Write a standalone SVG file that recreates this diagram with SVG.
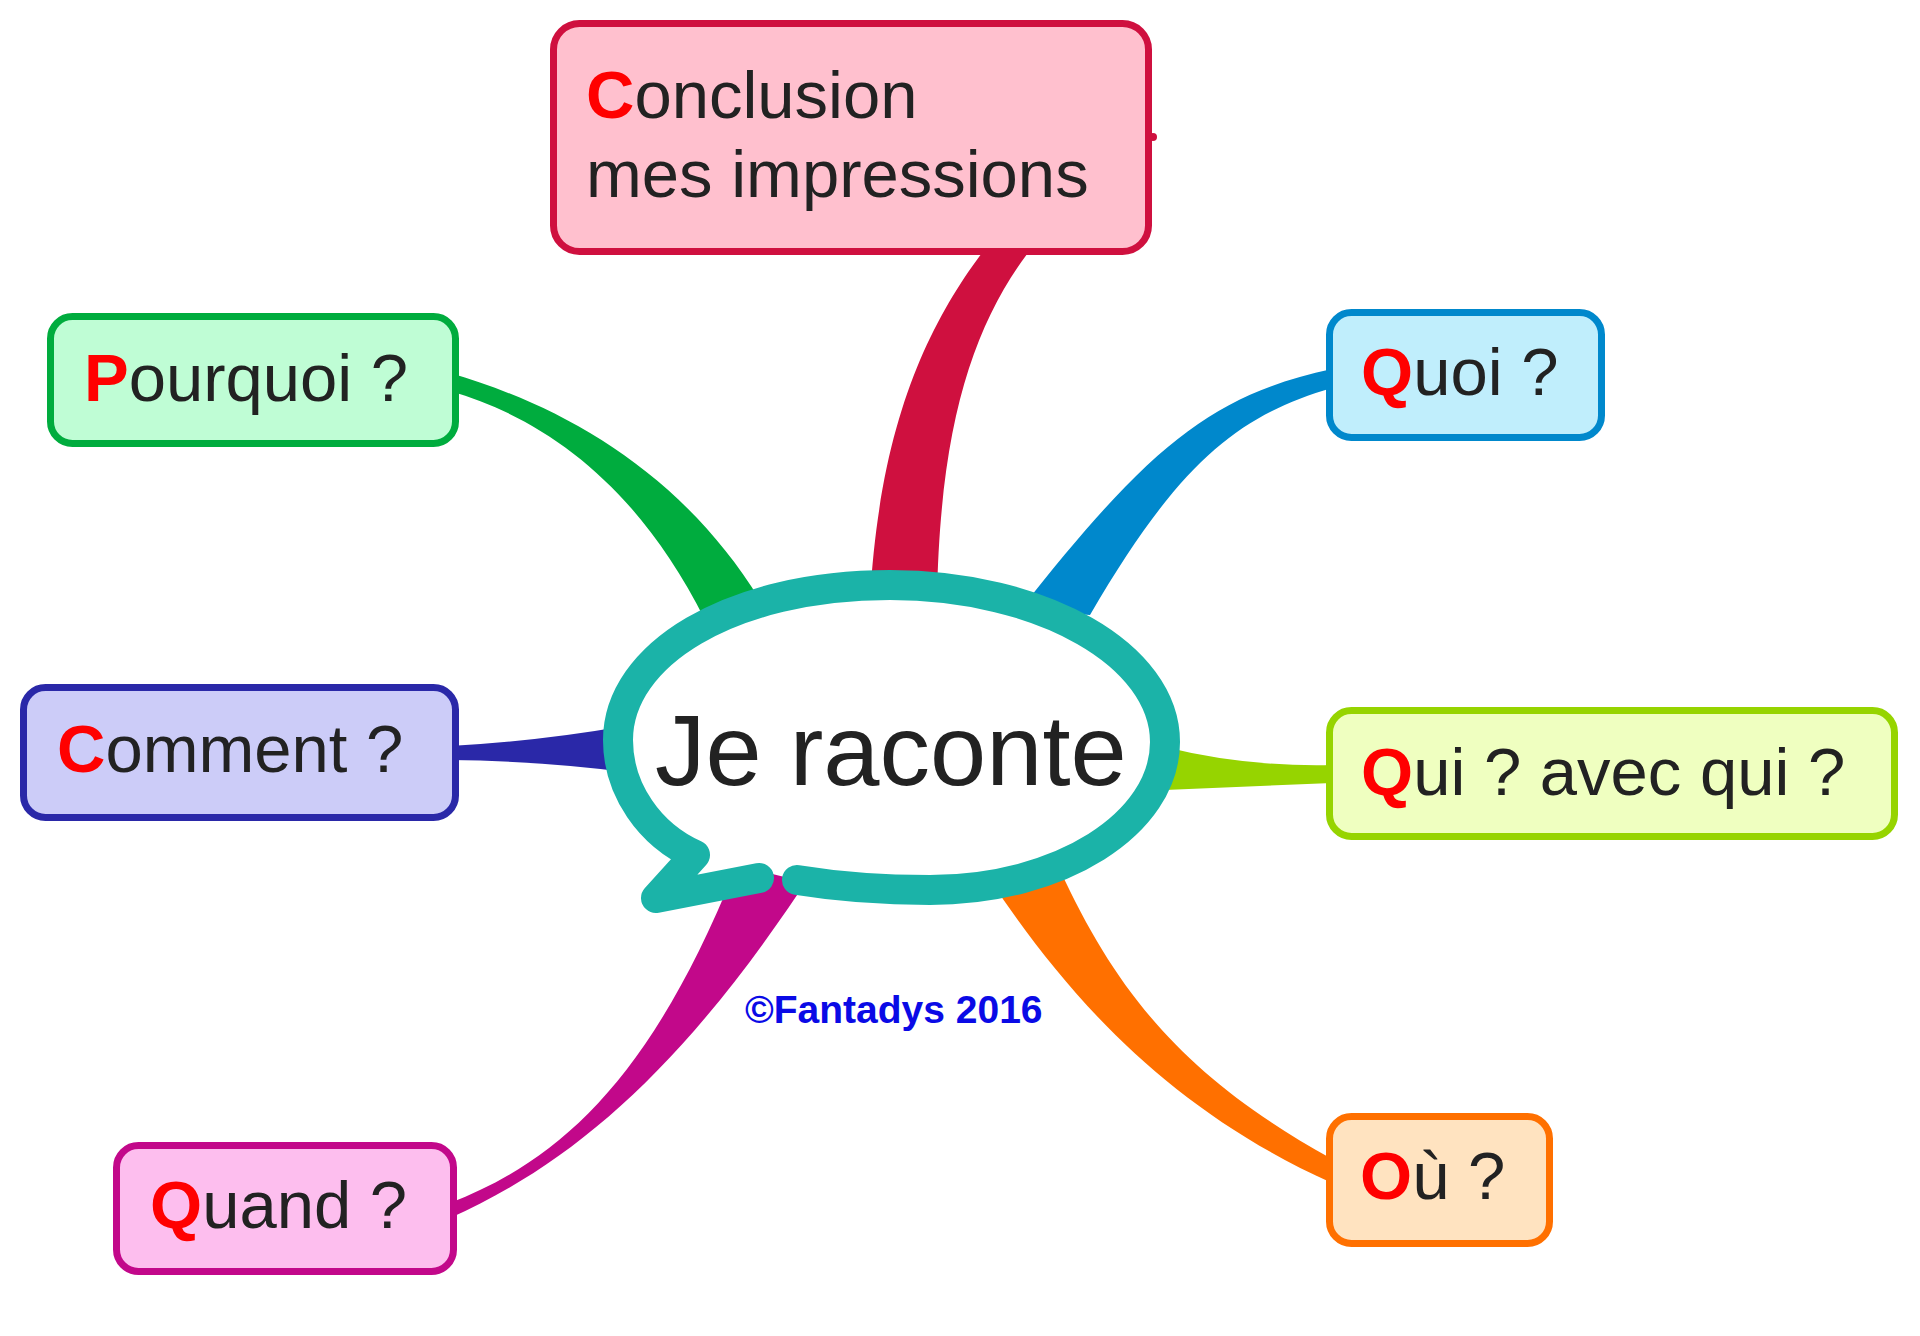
<svg xmlns="http://www.w3.org/2000/svg" width="1920" height="1336" viewBox="0 0 1920 1336">
<style>
.box{stroke-width:7}
.lbl{font-family:"Liberation Sans",Arial,sans-serif;font-size:67px;fill:#222222}
.ini{fill:#FF0000;font-weight:bold}
.ring{fill:none;stroke:#1BB3A8;stroke-width:30;stroke-linecap:round;stroke-linejoin:round}
</style>
<rect width="1920" height="1336" fill="#FFFFFF"/>
<g id="connectors">
  <path id="c-conclusion" fill="#CF103F" d="M 988,245 C 930,320 880,420 870,600 L 937,600 C 940,420 975,320 1034,245 Z"/>
  <path id="c-pourquoi" fill="#00AC3E" d="M 450,373 C 560,405 680,470 760,600 L 705,620 C 640,490 550,420 450,391 Z"/>
  <path id="c-comment" fill="#2A28A8" d="M 450,746 Q 540,741 625,726 L 625,772 Q 540,761 450,760 Z"/>
  <path id="c-quand" fill="#C2088A" d="M 450,1203 C 560,1160 650,1080 735,870 L 815,868 C 690,1060 580,1160 450,1218 Z"/>
  <path id="c-quoi" fill="#0088CC" d="M 1332,369 C 1212,395 1150,445 1020,610 L 1090,615 C 1180,460 1240,415 1332,388 Z"/>
  <path id="c-qui" fill="#96D400" d="M 1165,747 Q 1245,767 1332,765 L 1332,783 L 1165,790 Z"/>
  <path id="c-ou" fill="#FF7000" d="M 990,880 C 1070,1000 1170,1110 1332,1183 L 1332,1159 C 1190,1080 1120,1000 1060,870 Z"/>
</g>
<g id="center">
  <path fill="#FFFFFF" d="M 797,880 C 840,887 890,890 930,890 C 1060,890 1165,824 1165,742 C 1165,655 1042,585 890,585 C 730,585 618,655 618,740 C 618,790 650,835 695,855 Z"/>
  <path class="ring" d="M 797,880 C 840,887 890,890 930,890 C 1060,890 1165,824 1165,742 C 1165,655 1042,585 890,585 C 730,585 618,655 618,740 C 618,790 650,835 695,855 L 656,898 L 759,878"/>
  <text x="655" y="785" font-family="'Liberation Sans',Arial,sans-serif" font-size="101" fill="#222222">Je raconte</text>
</g>
<g id="node-conclusion">
  <rect class="box" x="553.5" y="23.5" width="595" height="228" rx="26" fill="#FFC0CE" stroke="#CF103F"/>
  <circle cx="1153" cy="137" r="4" fill="#CF103F"/>
  <text class="lbl" x="586" y="118"><tspan class="ini">C</tspan>onclusion</text>
  <text class="lbl" x="586" y="197">mes impressions</text>
</g>
<g id="node-pourquoi">
  <rect class="box" x="50.5" y="316.5" width="405" height="127" rx="22" fill="#BFFDD5" stroke="#00AC3E"/>
  <text class="lbl" x="84" y="401"><tspan class="ini">P</tspan>ourquoi ?</text>
</g>
<g id="node-comment">
  <rect class="box" x="23.5" y="687.5" width="432" height="130" rx="22" fill="#CCCCF8" stroke="#2A28A8"/>
  <text class="lbl" x="57" y="772"><tspan class="ini">C</tspan>omment ?</text>
</g>
<g id="node-quand">
  <rect class="box" x="116.5" y="1145.5" width="337" height="126" rx="22" fill="#FDBEEE" stroke="#C2088A"/>
  <text class="lbl" x="150" y="1228"><tspan class="ini">Q</tspan>uand ?</text>
</g>
<g id="node-quoi">
  <rect class="box" x="1329.5" y="312.5" width="272" height="125" rx="22" fill="#C0EEFC" stroke="#0088CC"/>
  <text class="lbl" x="1361" y="395"><tspan class="ini">Q</tspan>uoi ?</text>
</g>
<g id="node-qui">
  <rect class="box" x="1329.5" y="710.5" width="565" height="126" rx="22" fill="#EFFFC0" stroke="#96D400"/>
  <text class="lbl" x="1361" y="795"><tspan class="ini">Q</tspan>ui ? avec qui ?</text>
</g>
<g id="node-ou">
  <rect class="box" x="1329.5" y="1116.5" width="220" height="127" rx="22" fill="#FFE3C0" stroke="#FF7000"/>
  <text class="lbl" x="1360" y="1199"><tspan class="ini">O</tspan>ù ?</text>
</g>
<text x="745" y="1023" font-family="'Liberation Sans',Arial,sans-serif" font-size="39" font-weight="bold" fill="#0A0AE6">©Fantadys 2016</text>
</svg>
